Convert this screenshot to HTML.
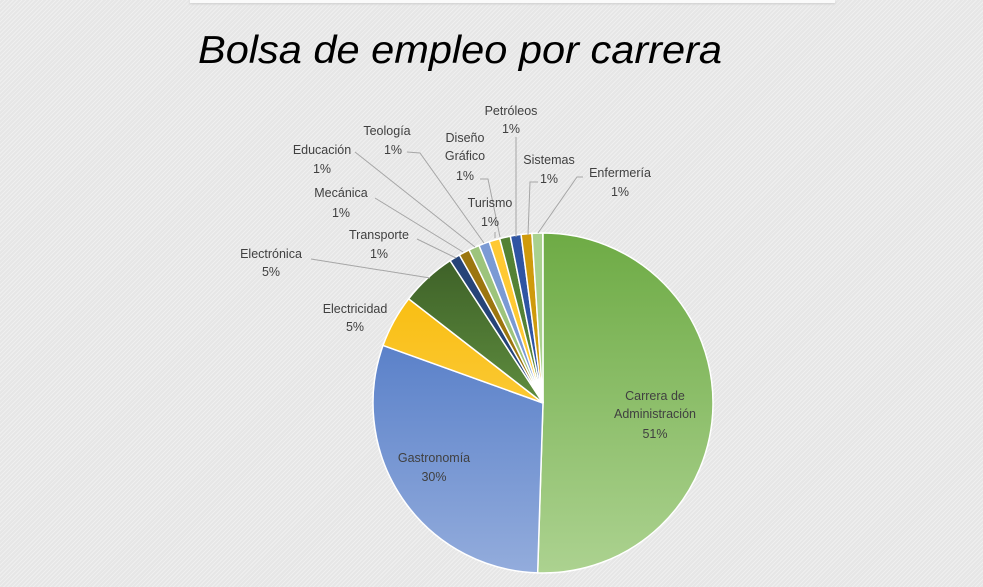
<!DOCTYPE html>
<html><head><meta charset="utf-8"><style>
html,body{margin:0;padding:0}
body{width:983px;height:587px;overflow:hidden;background:#ebebeb;background-image:repeating-linear-gradient(135deg,#efefef 0 1px,#e6e6e6 1px 3px);position:relative}
svg{position:absolute;left:0;top:0}
text{font-family:"Liberation Sans",sans-serif;font-size:12.5px;fill:#404040;text-anchor:middle}
</style></head><body>
<div style="position:absolute;left:190px;top:0;width:645px;height:3px;background:#fafafa;box-shadow:0 1px 2px #ccc"></div>
<svg width="983" height="587" viewBox="0 0 983 587">
<defs>
<linearGradient id="gA" gradientUnits="userSpaceOnUse" x1="0" y1="234" x2="0" y2="573"><stop offset="0" stop-color="#6eab45"/><stop offset="1" stop-color="#acd290"/></linearGradient>
<linearGradient id="gG" gradientUnits="userSpaceOnUse" x1="0" y1="234" x2="0" y2="573"><stop offset="0" stop-color="#3f6cc0"/><stop offset="1" stop-color="#93acdc"/></linearGradient>
<linearGradient id="gE" gradientUnits="userSpaceOnUse" x1="0" y1="234" x2="0" y2="573"><stop offset="0" stop-color="#f7b800"/><stop offset="1" stop-color="#ffd966"/></linearGradient>
<linearGradient id="gN" gradientUnits="userSpaceOnUse" x1="0" y1="260" x2="0" y2="400"><stop offset="0" stop-color="#3e6128"/><stop offset="1" stop-color="#5e8c3e"/></linearGradient>
</defs>
<g id="pie" stroke="#fff" stroke-width="1.5"></g>
<g fill="none" stroke="#a6a6a6" stroke-width="1">
<polyline points="311,259 430,278"/>
<polyline points="417,239 456,258"/>
<polyline points="375,198 463,252"/>
<polyline points="355,152 475,247"/>
<polyline points="407,152 420,153 484,243"/>
<polyline points="480,179 488,179 500,237"/>
<polyline points="495,232 495,238"/>
<polyline points="516,137 516,237"/>
<polyline points="538,182 530,182 528,235"/>
<polyline points="583,177 577,177 538,233"/>
</g>
<text x="460" y="63" style="font-size:39px;font-style:italic;fill:#000" textLength="524" lengthAdjust="spacingAndGlyphs">Bolsa de empleo por carrera</text>
<text x="511" y="115">Petróleos</text><text x="511" y="133">1%</text>
<text x="387" y="135">Teología</text><text x="393" y="154">1%</text>
<text x="465" y="142">Diseño</text><text x="465" y="160">Gráfico</text><text x="465" y="180">1%</text>
<text x="322" y="154">Educación</text><text x="322" y="173">1%</text>
<text x="549" y="164">Sistemas</text><text x="549" y="183">1%</text>
<text x="620" y="177">Enfermería</text><text x="620" y="196">1%</text>
<text x="341" y="197">Mecánica</text><text x="341" y="217">1%</text>
<text x="490" y="207">Turismo</text><text x="490" y="226">1%</text>
<text x="379" y="239">Transporte</text><text x="379" y="258">1%</text>
<text x="271" y="258">Electrónica</text><text x="271" y="276">5%</text>
<text x="355" y="313">Electricidad</text><text x="355" y="331">5%</text>
<text x="434" y="462">Gastronomía</text><text x="434" y="481">30%</text>
<text x="655" y="400">Carrera de</text><text x="655" y="418">Administración</text><text x="655" y="438">51%</text>
</svg>
<script>
var cx=543,cy=403,r=170;
var d=[[50.5,"url(#gA)"],[30,"url(#gG)"],[5,"url(#gE)"],[5.3,"url(#gN)"],[1.02,"#264478"],[1.02,"#9c760f"],[1.02,"#9dc47c"],[1.02,"#7b9ad4"],[1.02,"#ffc933"],[1.02,"#548235"],[1.02,"#2f55a3"],[1.02,"#cf9a0c"],[1.02,"#a9d18e"]];
var a=0,s="";
function p(t){return [cx+r*Math.sin(t),cy-r*Math.cos(t)];}
d.forEach(function(e){var a0=a*Math.PI/50;a+=e[0];var a1=a*Math.PI/50;var P=p(a0),Q=p(a1);
s+='<path fill="'+e[1]+'" d="M'+cx+','+cy+'L'+P[0]+','+P[1]+'A'+r+','+r+' 0 '+((a1-a0)>Math.PI?1:0)+' 1 '+Q[0]+','+Q[1]+'Z"/>';});
document.getElementById('pie').innerHTML=s;
</script>
</body></html>
